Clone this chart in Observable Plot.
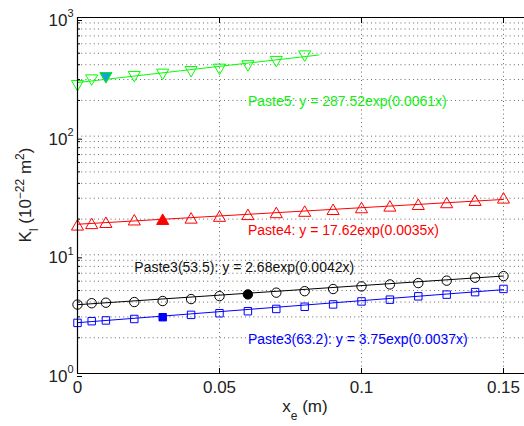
<!DOCTYPE html>
<html><head><meta charset="utf-8">
<script src="https://cdn.jsdelivr.net/npm/d3@7"></script>
<script src="https://cdn.jsdelivr.net/npm/@observablehq/plot@0.6"></script>
<style>
html,body{margin:0;padding:0;background:#fff;}
svg{display:block;}
</style>
</head><body><div id="chart"></div>
<script>
// ---- data ----
const xe = [0,0.005,0.01,0.02,0.03,0.04,0.05,0.06,0.07,0.08,0.09,0.10,0.11,0.12,0.13,0.14,0.15];
const kPaste3_535 = [3.81,3.91,3.95,4.00,4.08,4.24,4.49,4.64,4.80,4.94,5.15,5.42,5.63,5.78,6.06,6.42,6.62];
const kPaste3_632 = [2.67,2.76,2.80,2.88,2.98,3.12,3.22,3.35,3.50,3.65,3.82,4.05,4.19,4.47,4.62,4.85,5.16];
const kPaste4 = [17.3,17.8,18.2,19.1,19.3,19.8,20.5,21.2,22.0,22.6,23.4,24.2,25.0,25.8,26.7,27.9,29.2];
const xePaste5 = [0,0.005,0.01,0.02,0.03,0.04,0.05,0.06,0.07,0.08];
const kPaste5 = [275,307,321,328,343,361,378,404,439,489];

// exponential fit lines (end points)
const fitX = [0, 0.15];
const fitX5 = [0, 0.085];
const fit535 = [3.80, 6.63];
const fit632 = [2.68, 5.09];
const fit4 = [18.1, 29.3];
const fit5 = [283, 483];

// highlighted (filled) points
const hl535 = 0.06, hl632 = 0.03, hl4 = 0.03, hl5 = 0.01;

// annotations
const labelText = [
  "Paste5: y = 287.52exp(0.0061x)",
  "Paste4: y = 17.62exp(0.0035x)",
  "Paste3(53.5): y = 2.68exp(0.0042x)",
  "Paste3(63.2): y = 3.75exp(0.0037x)"
];
const labelX = [0.06, 0.06, 0.02, 0.06];
const labelY = [196, 16.0, 7.84, 1.95];
const labelColor = ["#11ee11", "#ff0000", "#111111", "#0000ff"];

// ticks / grid
const xTicks = [0, 0.05, 0.1, 0.15];
const yTicks = [1, 10, 100, 1000];
const yMinor = [2,3,4,5,6,7,8,9,20,30,40,50,60,70,80,90,200,300,400,500,600,700,800,900];
const xGrid = [0.05, 0.1, 0.15];
const yGrid = [2,3,4,5,6,7,8,9,10,20,30,40,50,60,70,80,90,100,200,300,400,500,600,700,800,900];

// ---- build ----
const rows = (xs, ys) => xs.map((x, i) => ({x, y: ys[i]}));
const s535 = rows(xe, kPaste3_535);
const s632 = rows(xe, kPaste3_632);
const s4 = rows(xe, kPaste4);
const s5 = rows(xePaste5, kPaste5);
const labels = labelText.map((t, i) => ({t, x: labelX[i], y: labelY[i], c: labelColor[i]}));

const triDown = {
  draw(ctx, size) {
    const y = Math.sqrt(size / (Math.sqrt(3) * 3));
    ctx.moveTo(0, 2 * y);
    ctx.lineTo(-Math.sqrt(3) * y, -y);
    ctx.lineTo(Math.sqrt(3) * y, -y);
    ctx.closePath();
  }
};

const FONT = '"Liberation Sans", Arial, Helvetica, sans-serif';
const grid = {stroke: "#000", strokeOpacity: 0.6, strokeDasharray: "1,3.2", strokeWidth: 1};
const RC = 4.7, RS = 4.2, RT = 4.5;

const chart = Plot.plot({
  width: 524,
  height: 426,
  marginLeft: 77,
  marginRight: 0,
  marginTop: 17,
  marginBottom: 53,
  style: {fontFamily: FONT, fontSize: "14px", background: "#fff", overflow: "visible"},
  x: {domain: [0, 0.1574], label: null},
  y: {type: "log", domain: [1, 1000], label: null},
  marks: [
    Plot.ruleX(xGrid, grid),
    Plot.ruleY(yGrid, grid),
    Plot.line(rows(fitX, fit535), {x: "x", y: "y", stroke: "#000", strokeWidth: 1}),
    Plot.line(rows(fitX, fit632), {x: "x", y: "y", stroke: "#0000ff", strokeWidth: 1}),
    Plot.line(rows(fitX, fit4), {x: "x", y: "y", stroke: "#ff0000", strokeWidth: 1}),
    Plot.line(rows(fitX5, fit5), {x: "x", y: "y", stroke: "#00ff00", strokeWidth: 1}),
    Plot.dot(s535.filter(d => d.x !== hl535), {x: "x", y: "y", symbol: "circle", r: RC, stroke: "#000", fill: "none", strokeWidth: 1}),
    Plot.dot(s535.filter(d => d.x === hl535), {x: "x", y: "y", symbol: "circle", r: RC, stroke: "#000", fill: "#000", strokeWidth: 1}),
    Plot.dot(s632.filter(d => d.x !== hl632), {x: "x", y: "y", symbol: "square", r: RS, stroke: "#0000ff", fill: "none", strokeWidth: 1}),
    Plot.dot(s632.filter(d => d.x === hl632), {x: "x", y: "y", symbol: "square", r: RS, stroke: "#0000ff", fill: "#0000ff", strokeWidth: 1}),
    Plot.dot(s4.filter(d => d.x !== hl4), {x: "x", y: "y", symbol: "triangle", r: RT, stroke: "#ff0000", fill: "none", strokeWidth: 1}),
    Plot.dot(s4.filter(d => d.x === hl4), {x: "x", y: "y", symbol: "triangle", r: RT, stroke: "#ff0000", fill: "#ff0000", strokeWidth: 1}),
    Plot.dot(s5.filter(d => d.x !== hl5), {x: "x", y: "y", symbol: triDown, r: RT, stroke: "#00ff00", fill: "none", strokeWidth: 1}),
    Plot.dot(s5.filter(d => d.x === hl5), {x: "x", y: "y", symbol: triDown, r: RT, stroke: "#00ee00", fill: "#10a4dc", strokeWidth: 1}),
    Plot.ruleY([1000], {stroke: "#000", strokeWidth: 1.2}),
    Plot.ruleY([1], {stroke: "#000", strokeWidth: 1.2}),
    Plot.ruleX([0], {stroke: "#000", strokeWidth: 1.2}),
    Plot.axisX(xTicks, {anchor: "bottom", tickSize: -5, tickPadding: 12, fontSize: 17, tickFormat: d => String(d), label: null, fill: "#222"}),
    Plot.axisX(xTicks, {anchor: "top", tickSize: -5, tickFormat: () => "", label: null}),
    Plot.axisY(yTicks, {anchor: "left", tickSize: -5, tickPadding: 9, dy: 3, fontSize: 17, tickFormat: d => "10^" + Math.round(Math.log10(d)), label: null, fill: "#222"}),
    Plot.axisY(yMinor, {anchor: "left", tickSize: -3, tickFormat: () => "", label: null}),
    Plot.text(labels, {x: "x", y: "y", text: "t", fill: "c", textAnchor: "start", fontSize: 14})
  ]
});

document.getElementById("chart").appendChild(chart);

// superscript tick labels (10^n)
const svg = d3.select(chart);
svg.selectAll('[aria-label="y-axis tick label"] text').each(function() {
  const s = this.textContent;
  if (!s.includes("^")) return;
  const [base, exp] = s.split("^");
  const t = d3.select(this);
  t.text(null);
  t.append("tspan").text(base);
  t.append("tspan").attr("font-size", 11).attr("dy", -8.5).text(exp);
});

// axis titles with sub/superscripts
const xl = svg.append("text")
  .attr("x", 305).attr("y", 412)
  .attr("text-anchor", "middle")
  .attr("font-size", 17).attr("fill", "#222");
xl.append("tspan").text("x");
xl.append("tspan").attr("font-size", 12).attr("dy", 8).text("e");
xl.append("tspan").attr("dy", -8).text(" (m)");

const yl = svg.append("text")
  .attr("transform", "translate(31,195) rotate(-90)")
  .attr("text-anchor", "middle")
  .attr("font-size", 17).attr("fill", "#222");
yl.append("tspan").text("K");
yl.append("tspan").attr("font-size", 12).attr("dy", 7).text("l");
yl.append("tspan").attr("dy", -7).text(" (10");
yl.append("tspan").attr("font-size", 12).attr("dy", -7).text("\u221222");
yl.append("tspan").attr("dy", 7).text(" m");
yl.append("tspan").attr("font-size", 12).attr("dy", -7).text("2");
yl.append("tspan").attr("dy", 7).text(")");
</script>
</body></html>
